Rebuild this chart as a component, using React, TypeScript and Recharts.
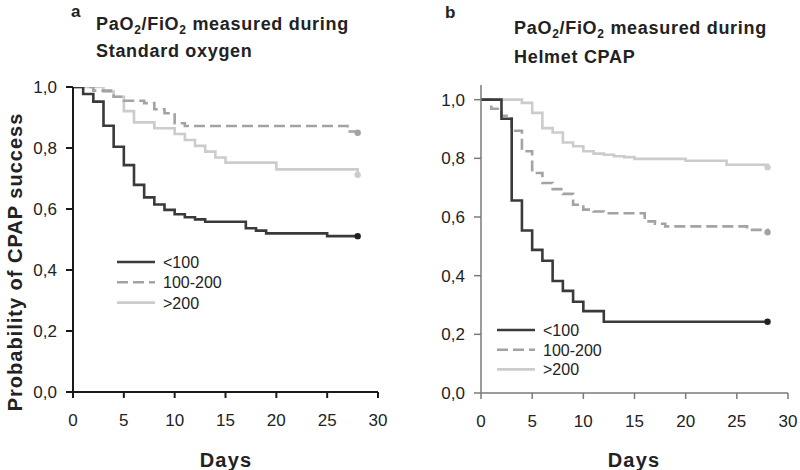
import React from 'react';
import { LineChart, Line, XAxis, YAxis } from 'recharts';

// ---------- data ----------
const seriesNames = ['<100', '100-200', '>200'];
const xTicks = [0, 5, 10, 15, 20, 25, 30];
const yTicks = [0, 0.2, 0.4, 0.6, 0.8, 1.0];

// Panel a: PaO2/FiO2 measured during Standard oxygen
const aLowDays = [0, 1, 2, 3, 4, 5, 6, 7, 8, 9, 10, 11, 12, 13, 17, 18, 19, 25, 28];
const aLowP = [1.0, 0.977, 0.952, 0.873, 0.804, 0.744, 0.679, 0.638, 0.615, 0.597, 0.583, 0.573, 0.566, 0.558, 0.537, 0.529, 0.52, 0.511, 0.511];
const aMidDays = [0, 2, 4, 5, 7, 8, 9, 10, 11, 27, 28];
const aMidP = [1.0, 0.988, 0.968, 0.955, 0.947, 0.927, 0.914, 0.881, 0.872, 0.854, 0.85];
const aHighDays = [0, 3, 4, 5, 6, 8, 10, 11, 12, 13, 14, 15, 20, 28];
const aHighP = [1.0, 0.985, 0.968, 0.921, 0.884, 0.865, 0.846, 0.826, 0.807, 0.788, 0.769, 0.752, 0.73, 0.712];

// Panel b: PaO2/FiO2 measured during Helmet CPAP
const bLowDays = [0, 2, 3, 4, 5, 6, 7, 8, 9, 10, 12, 28];
const bLowP = [1.0, 0.935, 0.656, 0.554, 0.488, 0.451, 0.382, 0.348, 0.311, 0.279, 0.243, 0.243];
const bMidDays = [0, 1, 2, 3, 4, 5, 6, 7, 8, 9, 10, 11, 12, 16, 17, 18, 26, 28];
const bMidP = [1.0, 0.969, 0.945, 0.894, 0.824, 0.75, 0.716, 0.695, 0.679, 0.642, 0.625, 0.619, 0.613, 0.585, 0.577, 0.568, 0.556, 0.548];
const bHighDays = [0, 4, 5, 6, 7, 8, 9, 10, 11, 12, 13, 14, 15, 20, 24, 28];
const bHighP = [1.0, 0.989, 0.955, 0.903, 0.888, 0.854, 0.841, 0.824, 0.816, 0.812, 0.807, 0.804, 0.798, 0.792, 0.778, 0.77];

const mk = (days: number[], ps: number[]) => days.map((d, i) => ({ day: d, p: ps[i] }));

// ---------- styles ----------
const FONT = '"Liberation Sans", Arial, Helvetica, sans-serif';
const C_LOW = '#3a3a3a';
const C_MID = '#a3a3a3';
const C_HIGH = '#cccccc';
const DASH = '11 5';
const TEXT = '#222222';

const fmtY = (v: number) => v.toFixed(1).replace('.', ',');

const endDot = (color: string, lastIndex: number) => (props: any) => {
  const { cx, cy, index } = props;
  if (index !== lastIndex) return <g key={`d${index}`} />;
  return <circle key={`d${index}`} cx={cx} cy={cy} r={3.2} fill={color} stroke="none" />;
};

type PanelProps = {
  low: { day: number; p: number }[];
  mid: { day: number; p: number }[];
  high: { day: number; p: number }[];
  axisColor: string;
  axisWidth: number;
  yMax: number;
  margin: { top: number; right: number; bottom: number; left: number };
};

function Panel({ low, mid, high, axisColor, axisWidth, yMax, margin }: PanelProps) {
  const tickStyle = { fontSize: 17, fill: TEXT, fontFamily: FONT };
  return (
    <LineChart width={400} height={470} margin={margin}>
      <XAxis
        dataKey="day"
        type="number"
        domain={[0, 30]}
        ticks={xTicks}
        interval={0}
        height={30}
        tickSize={6}
        tickMargin={16}
        axisLine={{ stroke: axisColor, strokeWidth: axisWidth }}
        tickLine={{ stroke: axisColor, strokeWidth: axisWidth }}
        tick={tickStyle}
      />
      <YAxis
        type="number"
        domain={[0, yMax]}
        ticks={yTicks}
        interval={0}
        width={60}
        tickSize={7}
        tickMargin={9}
        tickFormatter={fmtY}
        axisLine={{ stroke: axisColor, strokeWidth: axisWidth }}
        tickLine={{ stroke: axisColor, strokeWidth: axisWidth }}
        tick={tickStyle}
        allowDataOverflow
      />
      <Line
        data={high}
        dataKey="p"
        type="stepAfter"
        stroke={C_HIGH}
        strokeWidth={2.6}
        dot={endDot(C_HIGH, high.length - 1)}
        activeDot={false}
        isAnimationActive={false}
        name={seriesNames[2]}
      />
      <Line
        data={mid}
        dataKey="p"
        type="stepAfter"
        stroke={C_MID}
        strokeWidth={2.6}
        strokeDasharray={DASH}
        dot={endDot(C_MID, mid.length - 1)}
        activeDot={false}
        isAnimationActive={false}
        name={seriesNames[1]}
      />
      <Line
        data={low}
        dataKey="p"
        type="stepAfter"
        stroke={C_LOW}
        strokeWidth={2.6}
        dot={endDot('#222222', low.length - 1)}
        activeDot={false}
        isAnimationActive={false}
        name={seriesNames[0]}
      />
    </LineChart>
  );
}

function LegendBlock({ x, y, gap }: { x: number; y: number; gap: number }) {
  const items = [
    { name: seriesNames[0], color: C_LOW, dash: undefined as string | undefined },
    { name: seriesNames[1], color: C_MID, dash: DASH },
    { name: seriesNames[2], color: C_HIGH, dash: undefined },
  ];
  return (
    <g>
      {items.map((it, i) => (
        <g key={it.name}>
          <line
            x1={x}
            x2={x + 38}
            y1={y + i * gap}
            y2={y + i * gap}
            stroke={it.color}
            strokeWidth={2.6}
            strokeDasharray={it.dash}
          />
          <text x={x + 46} y={y + i * gap + 6} fontSize={16} fill={TEXT} fontFamily={FONT}>
            {it.name}
          </text>
        </g>
      ))}
    </g>
  );
}

function Title({ x, y1, y2, line2 }: { x: number; y1: number; y2: number; line2: string }) {
  const ts = { fontSize: 18, fontWeight: 700, fill: TEXT, fontFamily: FONT, letterSpacing: 0.7 } as any;
  return (
    <g>
      <text x={x} y={y1} {...ts}>
        PaO<tspan fontSize={12} dy={4}>2</tspan>
        <tspan dy={-4}>/FiO</tspan>
        <tspan fontSize={12} dy={4}>2</tspan>
        <tspan dy={-4}> measured during</tspan>
      </text>
      <text x={x} y={y2} {...ts}>
        {line2}
      </text>
    </g>
  );
}

export default function App() {
  return (
    <div style={{ position: 'absolute', left: 0, top: 0, width: 800, height: 470, background: '#fff', overflow: 'hidden' }}>
      <div style={{ position: 'absolute', left: 0, top: 0 }}>
        <Panel
          low={mk(aLowDays, aLowP)}
          mid={mk(aMidDays, aMidP)}
          high={mk(aHighDays, aHighP)}
          axisColor="#1a1a1a"
          axisWidth={2}
          yMax={1}
          margin={{ top: 87, right: 22, bottom: 48, left: 13 }}
        />
      </div>
      <div style={{ position: 'absolute', left: 400, top: 0 }}>
        <Panel
          low={mk(bLowDays, bLowP)}
          mid={mk(bMidDays, bMidP)}
          high={mk(bHighDays, bHighP)}
          axisColor="#7a7a7a"
          axisWidth={1.5}
          yMax={1.05}
          margin={{ top: 85, right: 12, bottom: 47, left: 21 }}
        />
      </div>
      <svg
        width={800}
        height={470}
        style={{ position: 'absolute', left: 0, top: 0, pointerEvents: 'none' }}
      >
        <text x={71} y={17} fontSize={17} fontWeight={700} fill={TEXT} fontFamily={FONT}>a</text>
        <text x={445} y={18} fontSize={17} fontWeight={700} fill={TEXT} fontFamily={FONT}>b</text>
        <Title x={96} y1={29.5} y2={57.3} line2="Standard oxygen" />
        <Title x={514} y1={34} y2={63.3} line2="Helmet CPAP" />
        <LegendBlock x={117} y={262} gap={20.3} />
        <LegendBlock x={497} y={330} gap={19.7} />
        <text x={226} y={466.5} textAnchor="middle" fontSize={20} fontWeight={700} fill={TEXT} fontFamily={FONT} letterSpacing={1.2}>
          Days
        </text>
        <text x={634} y={467} textAnchor="middle" fontSize={20} fontWeight={700} fill={TEXT} fontFamily={FONT} letterSpacing={1.2}>
          Days
        </text>
        <text
          transform="translate(22,262) rotate(-90)"
          textAnchor="middle"
          fontSize={20}
          fontWeight={700}
          fill={TEXT}
          fontFamily={FONT}
          letterSpacing={1}
        >
          Probability of CPAP success
        </text>
      </svg>
    </div>
  );
}
